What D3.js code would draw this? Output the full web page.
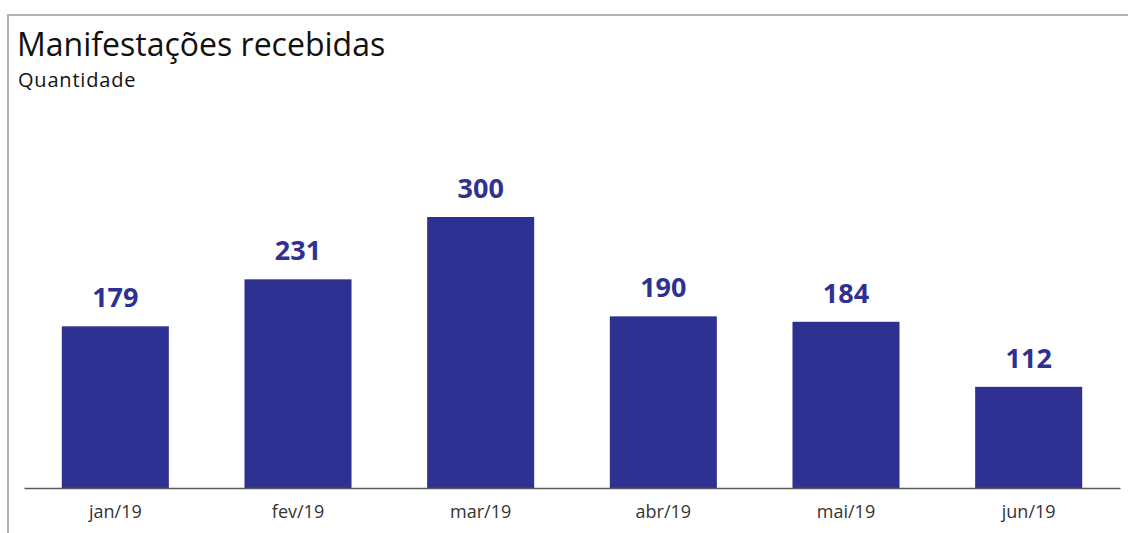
<!DOCTYPE html>
<html><head><meta charset="utf-8">
<script src="https://cdn.jsdelivr.net/npm/d3@7"></script>
<style>body{margin:0;background:#fff;}svg{display:block;}</style>
</head><body>
<script>
const categories = ["jan/19","fev/19","mar/19","abr/19","mai/19","jun/19"];
const values = [179, 231, 300, 190, 184, 112];
const title = "Manifestações recebidas";
const subtitle = "Quantidade";

const W = 1128, H = 533;
const svg = d3.select("body").append("svg").attr("width", W).attr("height", H);
const font = "'Open Sans', sans-serif";
const color = "#2E3192";

// frame
svg.append("line").attr("x1", 8).attr("x2", W).attr("y1", 15).attr("y2", 15)
  .attr("stroke", "#b3b3b3").attr("stroke-width", 2);
svg.append("line").attr("x1", 8).attr("x2", 8).attr("y1", 14).attr("y2", H)
  .attr("stroke", "#b3b3b3").attr("stroke-width", 2);

svg.append("text").attr("x", 17).attr("y", 56).text(title)
  .attr("font-family", font).attr("font-size", 32).attr("fill", "#111");
svg.append("text").attr("x", 18).attr("y", 87).text(subtitle)
  .attr("font-family", font).attr("font-size", 20).attr("fill", "#111")
  .attr("letter-spacing", 0.8);

const x = d3.scaleBand().domain(categories).range([24, 1120]).paddingInner(0.414).paddingOuter(0.207);
const y = d3.scaleLinear().domain([0, 300]).range([488, 217]);

svg.selectAll("rect.bar").data(values).join("rect").attr("class", "bar")
  .attr("x", (d, i) => x(categories[i])).attr("width", x.bandwidth())
  .attr("y", d => y(d)).attr("height", d => y(0) - y(d)).attr("fill", color);

svg.selectAll("text.lbl").data(values).join("text").attr("class", "lbl")
  .attr("x", (d, i) => x(categories[i]) + x.bandwidth() / 2)
  .attr("y", d => y(d) - 19).attr("text-anchor", "middle")
  .attr("font-family", font).attr("font-weight", "bold").attr("font-size", 27)
  .attr("fill", color).text(d => d);

const ax = svg.append("g").attr("transform", "translate(0,488)")
  .call(d3.axisBottom(x).tickSize(0).tickPadding(17));
ax.select(".domain").attr("stroke", "#595959").attr("stroke-width", 1.3);
ax.selectAll("text").attr("font-family", font).attr("font-size", 18).attr("fill", "#333");
</script>
</body></html>
